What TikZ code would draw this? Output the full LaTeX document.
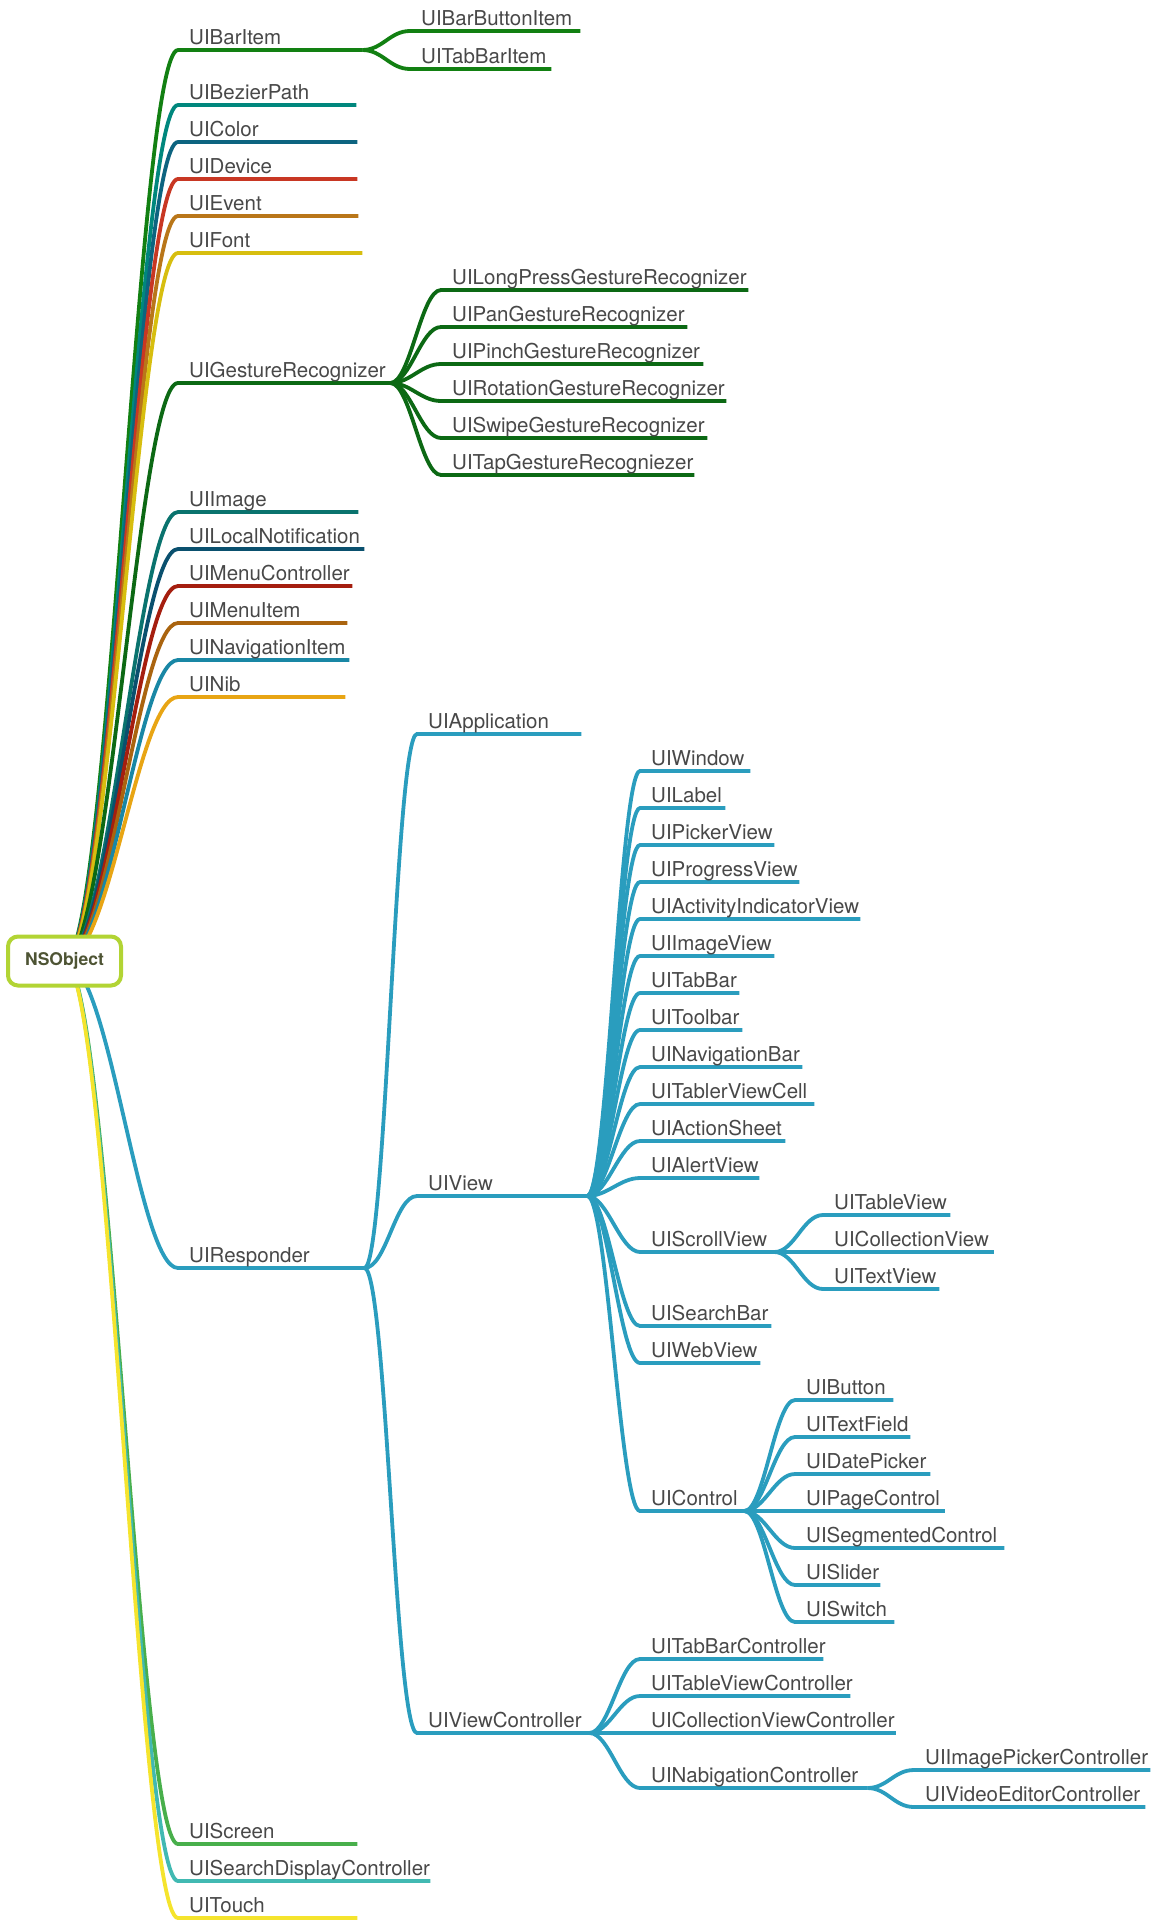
\documentclass[tikz,border=0pt]{standalone}
\usepackage{fontspec}
\setmainfont{TeX Gyre Heros}
\usepackage{xcolor}
\usetikzlibrary{backgrounds}

\definecolor{txtgray}{RGB}{72,72,72}
\definecolor{rootline}{RGB}{178,212,52}
\definecolor{roottext}{RGB}{78,84,52}
\definecolor{cbar}{RGB}{18,128,18}
\definecolor{cbezier}{RGB}{0,135,125}
\definecolor{ccolor}{RGB}{13,100,128}
\definecolor{cdevice}{RGB}{200,55,35}
\definecolor{cevent}{RGB}{185,118,25}
\definecolor{cfont}{RGB}{215,190,15}
\definecolor{cgesture}{RGB}{12,105,20}
\definecolor{cimage}{RGB}{10,115,110}
\definecolor{clocal}{RGB}{10,80,110}
\definecolor{cmenuctrl}{RGB}{165,30,15}
\definecolor{cmenuitem}{RGB}{170,100,15}
\definecolor{cnavitem}{RGB}{25,135,165}
\definecolor{cnib}{RGB}{232,165,20}
\definecolor{cresp}{RGB}{42,157,190}
\definecolor{cscreen}{RGB}{72,175,75}
\definecolor{csearch}{RGB}{65,185,178}
\definecolor{ctouch}{RGB}{245,228,45}

\begin{document}
\begin{tikzpicture}[x=1pt, y=-1pt, line cap=round,
 item/.style={anchor=south west, inner xsep=11pt, inner ysep=5pt, text depth=0pt, align=left, text=txtgray, font=\fontsize{20.5}{24}\selectfont},
 link/.style={line width=3.8pt},
 rootbox/.style={draw=rootline, line width=4pt, fill=white, rounded corners=10pt, minimum width=113pt, minimum height=49pt, text=roottext, font=\fontsize{17.5}{20}\selectfont\bfseries}]

\useasboundingbox (0,0) rectangle (1155,1923);

\node[rootbox] (root) at (64.5,961) {NSObject};

% first level
\node[item, text width=162pt] (bar) at (178,50) {UIBarItem};
\node[item, text width=156pt] (bezier) at (178,105) {UIBezierPath};
\node[item, text width=157pt] (color) at (178,142) {UIColor};
\node[item, text width=157pt] (device) at (178,179) {UIDevice};
\node[item, text width=158pt] (event) at (178,216) {UIEvent};
\node[item, text width=162pt] (font) at (178,253) {UIFont};
\node[item, text width=190pt] (gesture) at (178,383) {UIGestureRecognizer};
\node[item, text width=158pt] (image) at (178,512) {UIImage};
\node[item, text width=164pt] (localnote) at (178,549) {UILocalNotification};
\node[item, text width=152pt] (menuctrl) at (178,586) {UIMenuController};
\node[item, text width=147pt] (menuitem) at (178,623) {UIMenuItem};
\node[item, text width=149pt] (navitem) at (178,660) {UINavigationItem};
\node[item, text width=145pt] (nib) at (178,697) {UINib};
\node[item, text width=164pt] (responder) at (178,1268) {UIResponder};
\node[item, text width=157pt] (screen) at (178,1844) {UIScreen};
\node[item, text width=230pt] (searchdisp) at (178,1881) {UISearchDisplayController};
\node[item, text width=157pt] (touch) at (178,1918) {UITouch};

% bar items
\node[item, text width=148pt] (barbutton) at (410,31) {UIBarButtonItem};
\node[item, text width=119pt] (tabbaritem) at (410,69) {UITabBarItem};

% gesture recognizers
\node[item, text width=285pt] (longpress) at (441,290) {UILongPressGestureRecognizer};
\node[item, text width=224pt] (pan) at (441,327) {UIPanGestureRecognizer};
\node[item, text width=240pt] (pinch) at (441,364) {UIPinchGestureRecognizer};
\node[item, text width=263pt] (rotation) at (441,401) {UIRotationGestureRecognizer};
\node[item, text width=244pt] (swipe) at (441,438) {UISwipeGestureRecognizer};
\node[item, text width=231pt] (tap) at (441,475) {UITapGestureRecogniezer};

% responders
\node[item, text width=142pt] (application) at (417,734) {UIApplication};
\node[item, text width=148pt] (view) at (417,1196) {UIView};
\node[item, text width=150pt] (viewctrl) at (417,1733) {UIViewController};

% views
\node[item, text width=88pt] (window) at (640,771) {UIWindow};
\node[item, text width=63pt] (label) at (640,808) {UILabel};
\node[item, text width=112pt] (picker) at (640,845) {UIPickerView};
\node[item, text width=137pt] (progress) at (640,882) {UIProgressView};
\node[item, text width=198pt] (activity) at (640,919) {UIActivityIndicatorView};
\node[item, text width=112pt] (imageview) at (640,956) {UIImageView};
\node[item, text width=77pt] (tabbar) at (640,993) {UITabBar};
\node[item, text width=80pt] (toolbar) at (640,1030) {UIToolbar};
\node[item, text width=140pt] (navbar) at (640,1067) {UINavigationBar};
\node[item, text width=152pt] (tablercell) at (640,1104) {UITablerViewCell};
\node[item, text width=123pt] (actionsheet) at (640,1141) {UIActionSheet};
\node[item, text width=97pt] (alertview) at (640,1178) {UIAlertView};
\node[item, text width=112pt] (scrollview) at (640,1252) {UIScrollView};
\node[item, text width=109pt] (searchbar) at (640,1326) {UISearchBar};
\node[item, text width=98pt] (webview) at (640,1363) {UIWebView};
\node[item, text width=82pt] (control) at (640,1511) {UIControl};

\node[item, text width=105pt] (tableview) at (823,1215) {UITableView};
\node[item, text width=149pt] (collectionview) at (823,1252) {UICollectionView};
\node[item, text width=94pt] (textview) at (823,1289) {UITextView};

\node[item, text width=76pt] (button) at (795,1400) {UIButton};
\node[item, text width=93pt] (textfield) at (795,1437) {UITextField};
\node[item, text width=113pt] (datepicker) at (795,1474) {UIDatePicker};
\node[item, text width=128pt] (pagecontrol) at (795,1511) {UIPageControl};
\node[item, text width=187pt] (segmented) at (795,1548) {UISegmentedControl};
\node[item, text width=63pt] (slider) at (795,1585) {UISlider};
\node[item, text width=77pt] (switch) at (795,1622) {UISwitch};

% view controllers
\node[item, text width=161pt] (tabbarctrl) at (640,1659) {UITabBarController};
\node[item, text width=188pt] (tableviewctrl) at (640,1696) {UITableViewController};
\node[item, text width=234pt] (collectionviewctrl) at (640,1733) {UICollectionViewController};
\node[item, text width=205pt] (nabigation) at (640,1788) {UINabigationController};

\node[item, text width=214pt] (imagepicker) at (914,1770) {UIImagePickerController};
\node[item, text width=209pt] (videoeditor) at (914,1807) {UIVideoEditorController};

\begin{pgfonlayer}{background}
\foreach \n/\c in {bar/cbar, bezier/cbezier, color/ccolor, device/cdevice, event/cevent, font/cfont, gesture/cgesture, image/cimage, localnote/clocal, menuctrl/cmenuctrl, menuitem/cmenuitem, navitem/cnavitem, nib/cnib, responder/cresp, screen/cscreen, searchdisp/csearch, touch/ctouch}
 \draw[link, \c] (root.center) .. controls +(45,0) and +(-40,0) .. (\n.south west) -- (\n.south east);

\foreach \n in {barbutton, tabbaritem}
 \draw[link, cbar] (bar.south east) .. controls +(20,0) and +(-20,0) .. (\n.south west) -- (\n.south east);

\foreach \n in {longpress, pan, pinch, rotation, swipe, tap}
 \draw[link, cgesture] (gesture.south east) .. controls +(20,0) and +(-20,0) .. (\n.south west) -- (\n.south east);

\foreach \n in {application, view, viewctrl}
 \draw[link, cresp] (responder.south east) .. controls +(22,0) and +(-22,0) .. (\n.south west) -- (\n.south east);

\foreach \n in {window, label, picker, progress, activity, imageview, tabbar, toolbar, navbar, tablercell, actionsheet, alertview, scrollview, searchbar, webview, control}
 \draw[link, cresp] (view.south east) .. controls +(20,0) and +(-20,0) .. (\n.south west) -- (\n.south east);

\foreach \n in {tableview, collectionview, textview}
 \draw[link, cresp] (scrollview.south east) .. controls +(20,0) and +(-20,0) .. (\n.south west) -- (\n.south east);

\foreach \n in {button, textfield, datepicker, pagecontrol, segmented, slider, switch}
 \draw[link, cresp] (control.south east) .. controls +(20,0) and +(-20,0) .. (\n.south west) -- (\n.south east);

\foreach \n in {tabbarctrl, tableviewctrl, collectionviewctrl, nabigation}
 \draw[link, cresp] (viewctrl.south east) .. controls +(20,0) and +(-20,0) .. (\n.south west) -- (\n.south east);

\foreach \n in {imagepicker, videoeditor}
 \draw[link, cresp] (nabigation.south east) .. controls +(20,0) and +(-20,0) .. (\n.south west) -- (\n.south east);
\end{pgfonlayer}
\end{tikzpicture}
\end{document}
